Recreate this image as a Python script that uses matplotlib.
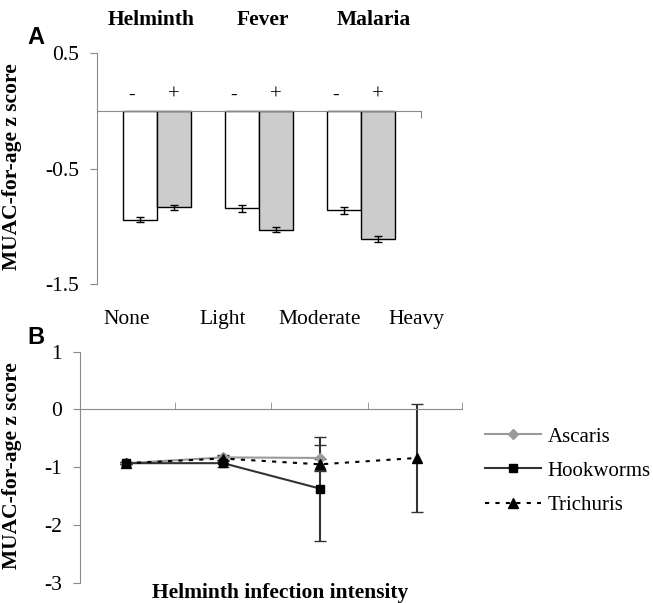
import numpy as np
import matplotlib
matplotlib.use('Agg')
import matplotlib.pyplot as plt

plt.rcParams['font.family'] = ['Liberation Serif', 'DejaVu Serif']
plt.rcParams['axes.unicode_minus'] = False

# 面板A数据
groups = ['Helminth', 'Fever', 'Malaria']
signs = ['-', '+']
neg_vals = [-0.944, -0.843, -0.863]
neg_err = [0.02, 0.03, 0.03]
pos_vals = [-0.837, -1.03, -1.11]
pos_err = [0.02, 0.02, 0.03]
ticks_a = [0.5, -0.5, -1.5]

# 面板B数据
intensity = ['None', 'Light', 'Moderate', 'Heavy']
ascaris = [-0.93, -0.83, -0.84, np.nan]
ascaris_err = [0.02, 0.04, 0.23, np.nan]
hookworms = [-0.93, -0.93, -1.37, np.nan]
hookworms_err = [0.02, 0.06, 0.9, np.nan]
trichuris = [-0.93, -0.85, -0.95, -0.84]
trichuris_err = [0.02, 0.05, 0.1, 0.93]
ticks_b = [1, 0, -1, -2, -3]

spine_c = '#8a8a8a'
fs_tick = 15.5
fs_lab = 15.5

fig = plt.figure(figsize=(6.53, 6.03), dpi=100)

''' 面板A：柱状图 '''
ax = fig.add_axes([0.1486, 0.529, 0.496, 0.383])
x = np.arange(len(groups))
w = 0.333
ax.bar(x - w / 2, neg_vals, w, color='white', edgecolor='black', linewidth=1.0,
       yerr=neg_err, capsize=3, error_kw=dict(elinewidth=1.0, capthick=1.0))
ax.bar(x + w / 2, pos_vals, w, color='#cccccc', edgecolor='black', linewidth=1.0,
       yerr=pos_err, capsize=3, error_kw=dict(elinewidth=1.0, capthick=1.0))
ax.set_xlim(-0.59, 2.59)
ax.set_ylim(-1.5, 0.5)
ax.set_yticks(ticks_a)
ax.set_yticklabels(['%g' % t for t in ticks_a])
ax.set_xticks([2.59])
ax.set_xticklabels([])
for s in ['top', 'right']:
    ax.spines[s].set_visible(False)
ax.spines['bottom'].set_position(('data', 0))
ax.spines['left'].set_color(spine_c)
ax.spines['bottom'].set_color(spine_c)
ax.tick_params(axis='y', direction='out', length=5, color=spine_c, labelsize=fs_tick, pad=8)
ax.tick_params(axis='x', direction='out', length=5, color=spine_c)

# 正负号和分组标题
for i in range(len(groups)):
    ax.text(x[i] - w / 2 - 0.08, 0.13, signs[0], ha='center', va='center', fontsize=14)
    ax.text(x[i] + w / 2, 0.14, signs[1], ha='center', va='center', fontsize=15)
    ax.text(x[i] * 1.095 - 0.06, 1.143, groups[i], transform=ax.get_xaxis_transform(),
            ha='center', va='center', fontsize=fs_lab, fontweight='bold')

ax.set_ylabel('MUAC-for-age z score', fontsize=fs_lab, fontweight='bold')
ax.yaxis.set_label_coords(-0.231, 0.51)
fig.text(36 / 653, 1 - 37 / 603, 'A', family='Liberation Sans', fontsize=17,
         fontweight='bold', ha='center', va='center')

''' 面板B：折线图 '''
bx = fig.add_axes([0.1225, 0.0337, 0.585, 0.383])
xb = np.arange(len(intensity))
bx.errorbar(xb, ascaris, yerr=ascaris_err, color='#9a9a9a', marker='D', markersize=5,
            linewidth=1.5, ecolor='#333333', elinewidth=1.2, capsize=4, label='Ascaris')
bx.errorbar(xb, hookworms, yerr=hookworms_err, color='#333333', marker='s', markersize=6,
            markerfacecolor='black', markeredgecolor='black', linewidth=1.5,
            ecolor='#333333', elinewidth=1.5, capsize=4, label='Hookworms')
bx.errorbar(xb, trichuris, yerr=trichuris_err, color='black', marker='^', markersize=6.5,
            linestyle=(0, (2, 3)), linewidth=1.5, ecolor='#333333', elinewidth=1.5,
            capsize=4, label='Trichuris')
bx.set_xlim(-0.48, 3.47)
bx.set_ylim(-3, 1)
bx.set_yticks(ticks_b)
bx.set_yticklabels(['%g' % t for t in ticks_b])
bx.set_xticks(xb)
bx.set_xticklabels(intensity)
bx.set_xticks([0.5, 1.5, 2.5, 3.47], minor=True)
for s in ['top', 'right']:
    bx.spines[s].set_visible(False)
bx.spines['bottom'].set_position(('data', 0))
bx.spines['left'].set_color(spine_c)
bx.spines['bottom'].set_color(spine_c)
bx.tick_params(axis='y', direction='out', length=5, color=spine_c, labelsize=fs_tick, pad=8)
bx.tick_params(axis='x', which='major', bottom=False, top=False, labelbottom=False,
               labeltop=True, labelsize=fs_tick, pad=13)
bx.tick_params(axis='x', which='minor', bottom=True, top=False, direction='in',
               length=5, color=spine_c)

bx.set_ylabel('MUAC-for-age z score', fontsize=fs_lab, fontweight='bold')
bx.yaxis.set_label_coords(-0.152, 0.505)
bx.set_xlabel('Helminth infection intensity', fontsize=fs_lab, fontweight='bold')
bx.xaxis.set_label_coords(0.524, 0.0)
fig.text(36 / 653, 1 - 337 / 603, 'B', family='Liberation Sans', fontsize=17,
         fontweight='bold', ha='center', va='center')

# 图例只显示线和标记，不显示误差线
handles, labels = bx.get_legend_handles_labels()
handles = [h[0] for h in handles]
fig.legend(handles, labels, loc='center left', bbox_to_anchor=(0.743, 0.219), frameon=False,
           fontsize=15, handlelength=2.7, handletextpad=0.3, labelspacing=0.7,
           borderpad=0, borderaxespad=0)

fig.savefig('out.png', dpi=100)
